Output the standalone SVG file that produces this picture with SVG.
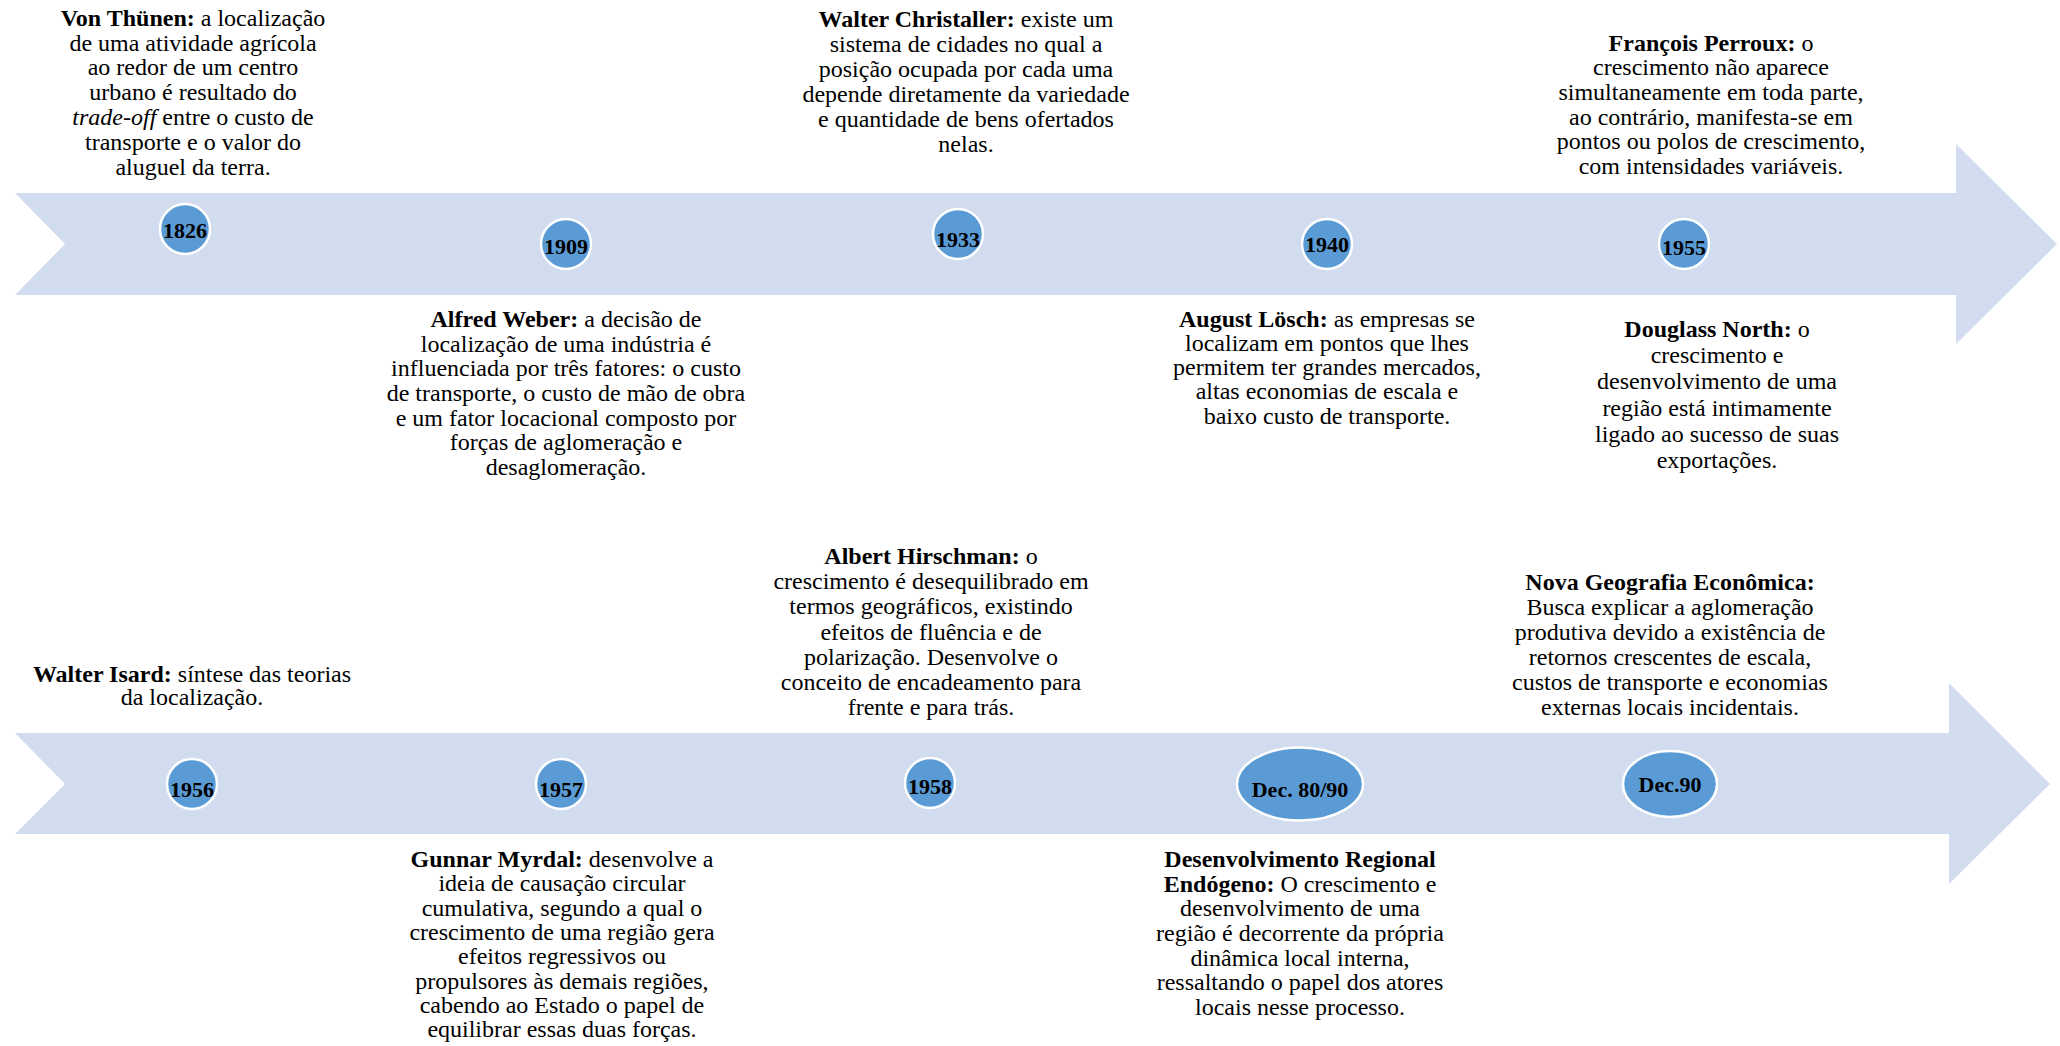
<svg xmlns="http://www.w3.org/2000/svg" width="2060" height="1046" viewBox="0 0 2060 1046">
<style>
.band{fill:#D1DCEF;}
.dot{fill:#5B9BD5;stroke:#FFFFFF;stroke-width:2.5;}
.yr{font-family:"Liberation Serif","Times New Roman",serif;font-size:22px;font-weight:bold;fill:#000;text-anchor:middle;}
.t{font-family:"Liberation Serif","Times New Roman",serif;font-size:24px;fill:#000;text-anchor:middle;}
.b{font-weight:bold;}
.i{font-style:italic;}
</style>
<rect width="2060" height="1046" fill="#FFFFFF"/>
<g id="connectors">
<path class="band" d="M15,193 L1956,193 L1956,144 L2057,244 L1956,344 L1956,295 L15,295 L65,244 Z"/>
<path class="band" d="M15,733 L1949,733 L1949,683 L2050,784 L1949,884 L1949,834 L15,834 L65,784 Z"/>
</g>

<g id="node-1826">
<circle class="dot" cx="185" cy="229" r="25"/>
<text class="yr" x="185" y="238">1826</text>
<text class="t" x="193" y="26"><tspan class="b">Von Thünen:</tspan> a localização</text>
<text class="t" x="193" y="51">de uma atividade agrícola</text>
<text class="t" x="193" y="75">ao redor de um centro</text>
<text class="t" x="193" y="100">urbano é resultado do</text>
<text class="t" x="193" y="125"><tspan class="i">trade-off</tspan> entre o custo de</text>
<text class="t" x="193" y="150">transporte e o valor do</text>
<text class="t" x="193" y="175">aluguel da terra.</text>
</g>

<g id="node-1909">
<circle class="dot" cx="566" cy="244" r="25"/>
<text class="yr" x="566" y="254">1909</text>
<text class="t" x="566" y="327"><tspan class="b">Alfred Weber:</tspan> a decisão de</text>
<text class="t" x="566" y="352">localização de uma indústria é</text>
<text class="t" x="566" y="376">influenciada por três fatores: o custo</text>
<text class="t" x="566" y="401">de transporte, o custo de mão de obra</text>
<text class="t" x="566" y="426">e um fator locacional composto por</text>
<text class="t" x="566" y="450">forças de aglomeração e</text>
<text class="t" x="566" y="475">desaglomeração.</text>
</g>

<g id="node-1933">
<circle class="dot" cx="958" cy="234" r="25"/>
<text class="yr" x="958" y="247">1933</text>
<text class="t" x="966" y="27"><tspan class="b">Walter Christaller:</tspan> existe um</text>
<text class="t" x="966" y="52">sistema de cidades no qual a</text>
<text class="t" x="966" y="77">posição ocupada por cada uma</text>
<text class="t" x="966" y="102">depende diretamente da variedade</text>
<text class="t" x="966" y="127">e quantidade de bens ofertados</text>
<text class="t" x="966" y="152">nelas.</text>
</g>

<g id="node-1940">
<circle class="dot" cx="1327" cy="244" r="25"/>
<text class="yr" x="1327" y="252">1940</text>
<text class="t" x="1327" y="327"><tspan class="b">August Lösch:</tspan> as empresas se</text>
<text class="t" x="1327" y="351">localizam em pontos que lhes</text>
<text class="t" x="1327" y="375">permitem ter grandes mercados,</text>
<text class="t" x="1327" y="399">altas economias de escala e</text>
<text class="t" x="1327" y="424">baixo custo de transporte.</text>
</g>

<g id="node-1955">
<circle class="dot" cx="1684" cy="244" r="25"/>
<text class="yr" x="1684" y="255">1955</text>
<text class="t" x="1711" y="51"><tspan class="b">François Perroux:</tspan> o</text>
<text class="t" x="1711" y="75">crescimento não aparece</text>
<text class="t" x="1711" y="100">simultaneamente em toda parte,</text>
<text class="t" x="1711" y="125">ao contrário, manifesta-se em</text>
<text class="t" x="1711" y="149">pontos ou polos de crescimento,</text>
<text class="t" x="1711" y="174">com intensidades variáveis.</text>
<text class="t" x="1717" y="337"><tspan class="b">Douglass North:</tspan> o</text>
<text class="t" x="1717" y="363">crescimento e</text>
<text class="t" x="1717" y="389">desenvolvimento de uma</text>
<text class="t" x="1717" y="416">região está intimamente</text>
<text class="t" x="1717" y="442">ligado ao sucesso de suas</text>
<text class="t" x="1717" y="468">exportações.</text>
</g>

<g id="node-1956">
<circle class="dot" cx="192" cy="784" r="25"/>
<text class="yr" x="192" y="797">1956</text>
<text class="t" x="192" y="682"><tspan class="b">Walter Isard:</tspan> síntese das teorias</text>
<text class="t" x="192" y="705">da localização.</text>
</g>

<g id="node-1957">
<circle class="dot" cx="561" cy="784" r="25"/>
<text class="yr" x="561" y="797">1957</text>
<text class="t" x="562" y="867"><tspan class="b">Gunnar Myrdal:</tspan> desenvolve a</text>
<text class="t" x="562" y="891">ideia de causação circular</text>
<text class="t" x="562" y="916">cumulativa, segundo a qual o</text>
<text class="t" x="562" y="940">crescimento de uma região gera</text>
<text class="t" x="562" y="964">efeitos regressivos ou</text>
<text class="t" x="562" y="989">propulsores às demais regiões,</text>
<text class="t" x="562" y="1013">cabendo ao Estado o papel de</text>
<text class="t" x="562" y="1037">equilibrar essas duas forças.</text>
</g>

<g id="node-1958">
<circle class="dot" cx="930" cy="783" r="25"/>
<text class="yr" x="930" y="794">1958</text>
<text class="t" x="931" y="564"><tspan class="b">Albert Hirschman:</tspan> o</text>
<text class="t" x="931" y="589">crescimento é desequilibrado em</text>
<text class="t" x="931" y="614">termos geográficos, existindo</text>
<text class="t" x="931" y="640">efeitos de fluência e de</text>
<text class="t" x="931" y="665">polarização. Desenvolve o</text>
<text class="t" x="931" y="690">conceito de encadeamento para</text>
<text class="t" x="931" y="715">frente e para trás.</text>
</g>

<g id="node-dec-80-90">
<ellipse class="dot" cx="1300" cy="784" rx="63" ry="36.5"/>
<text class="yr" x="1300" y="797">Dec. 80/90</text>
<text class="t" x="1300" y="867"><tspan class="b">Desenvolvimento Regional</tspan></text>
<text class="t" x="1300" y="892"><tspan class="b">Endógeno:</tspan> O crescimento e</text>
<text class="t" x="1300" y="916">desenvolvimento de uma</text>
<text class="t" x="1300" y="941">região é decorrente da própria</text>
<text class="t" x="1300" y="966">dinâmica local interna,</text>
<text class="t" x="1300" y="990">ressaltando o papel dos atores</text>
<text class="t" x="1300" y="1015">locais nesse processo.</text>
</g>

<g id="node-dec-90">
<ellipse class="dot" cx="1670" cy="784" rx="47" ry="33"/>
<text class="yr" x="1670" y="792">Dec.90</text>
<text class="t" x="1670" y="590"><tspan class="b">Nova Geografia Econômica:</tspan></text>
<text class="t" x="1670" y="615">Busca explicar a aglomeração</text>
<text class="t" x="1670" y="640">produtiva devido a existência de</text>
<text class="t" x="1670" y="665">retornos crescentes de escala,</text>
<text class="t" x="1670" y="690">custos de transporte e economias</text>
<text class="t" x="1670" y="715">externas locais incidentais.</text>
</g>
</svg>
